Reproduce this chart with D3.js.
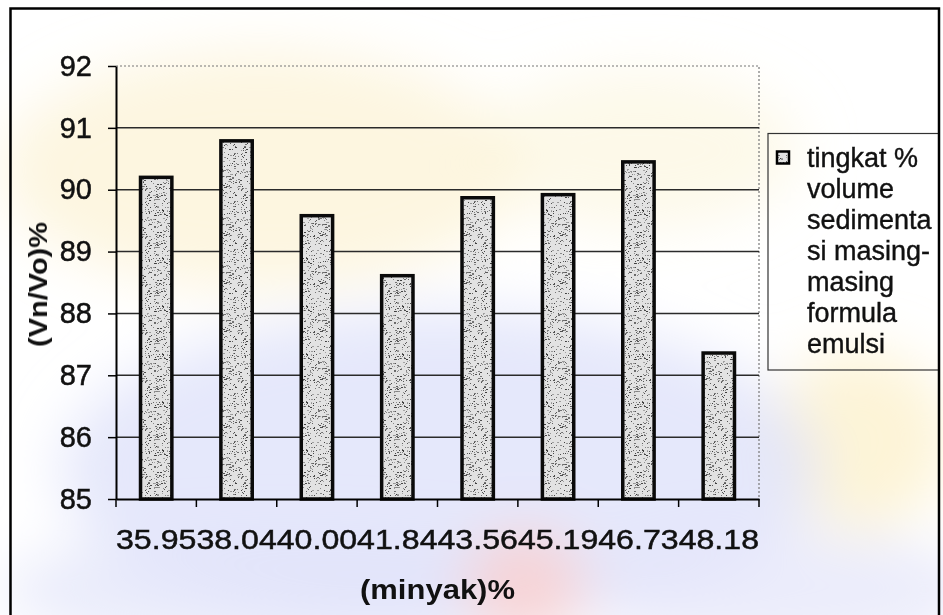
<!DOCTYPE html>
<html>
<head>
<meta charset="utf-8">
<script src="https://cdn.jsdelivr.net/npm/d3@7"></script>
<style>
  html, body { margin: 0; padding: 0; background: #ffffff; }
  svg { display: block; }
  text { font-family: Arial, "Liberation Sans", sans-serif; fill: #111; }
</style>
</head>
<body>
<svg id="chart" width="943" height="615"></svg>
<script>
// Oil fraction of each emulsion formula (category labels)
const categories = ["35.95", "38.04", "40.00", "41.84", "43.56", "45.19", "46.73", "48.18"];
// Sedimentation volume ratio (Vn/Vo)% for each formula
const values = [90.20, 90.79, 89.58, 88.61, 89.87, 89.92, 90.45, 87.36];
// Y axis ticks
const yTicks = [85, 86, 87, 88, 89, 90, 91, 92];
// Legend text, wrapped as it appears in the legend box
const legendLines = ["tingkat %", "volume", "sedimenta", "si masing-", "masing", "formula", "emulsi"];
const xTitle = "(minyak)%";
const yTitle = "(Vn/Vo)%";

const svg = d3.select("#chart");
const defs = svg.append("defs");

// Soft background wash
const blur = defs.append("filter").attr("id", "soft")
  .attr("x", "-50%").attr("y", "-50%").attr("width", "200%").attr("height", "200%");
blur.append("feGaussianBlur").attr("stdDeviation", 28);

// Stippled grey fill for the bars (deterministic speckle texture)
const pat = defs.append("pattern").attr("id", "stipple")
  .attr("patternUnits", "userSpaceOnUse").attr("width", 48).attr("height", 48);
pat.append("rect").attr("width", 48).attr("height", 48).attr("fill", "#e2e2e2");
let seed = 12345;
function lcg() { seed = (seed * 1103515245 + 12345) % 2147483648; return seed / 2147483648; }
for (let i = 0; i < 300; i++) {
  const g = Math.floor(60 + lcg() * 110);
  pat.append("rect")
    .attr("x", Math.floor(lcg() * 48)).attr("y", Math.floor(lcg() * 48))
    .attr("width", lcg() < 0.3 ? 2 : 1).attr("height", 1)
    .attr("fill", `rgb(${g},${g},${g})`);
}

// Background wash
const wash = svg.append("g").attr("filter", "url(#soft)");
wash.append("ellipse").attr("cx", 260).attr("cy", 170).attr("rx", 260).attr("ry", 120)
  .attr("fill", "#fbefc6").attr("opacity", 0.55);
wash.append("ellipse").attr("cx", 640).attr("cy", 150).attr("rx", 160).attr("ry", 80)
  .attr("fill", "#fcf3d4").attr("opacity", 0.5);
wash.append("ellipse").attr("cx", 860).attr("cy", 440).attr("rx", 90).attr("ry", 90)
  .attr("fill", "#fcf0c6").attr("opacity", 0.7);
wash.append("ellipse").attr("cx", 440).attr("cy", 470).attr("rx", 380).attr("ry", 160)
  .attr("fill", "#dfe2fa").attr("opacity", 0.8);
wash.append("ellipse").attr("cx", 300).attr("cy", 590).attr("rx", 300).attr("ry", 60)
  .attr("fill", "#e2e4fa").attr("opacity", 0.75);
wash.append("ellipse").attr("cx", 780).attr("cy", 590).attr("rx", 200).attr("ry", 60)
  .attr("fill", "#e4e6fa").attr("opacity", 0.75);
wash.append("ellipse").attr("cx", 525).attr("cy", 585).attr("rx", 60).attr("ry", 55)
  .attr("fill", "#f8d2d2").attr("opacity", 0.9);

// Plot geometry
const plot = { left: 116, right: 759, top: 66, bottom: 499 };

const x = d3.scaleBand()
  .domain(categories)
  .range([plot.left, plot.right])
  .paddingInner(0.61)
  .paddingOuter(0.305);

const y = d3.scaleLinear()
  .domain([85, 92])
  .range([plot.bottom, plot.top]);

// Plot area border (dotted, top and right)
svg.append("path")
  .attr("d", `M${plot.left},${plot.top}H${plot.right}V${plot.bottom}`)
  .attr("fill", "none").attr("stroke", "#777").attr("stroke-width", 1.2)
  .attr("stroke-dasharray", "2,2");

// Gridlines
svg.append("g").selectAll("line")
  .data(yTicks.filter(t => t > 85 && t < 92))
  .join("line")
  .attr("x1", plot.left).attr("x2", plot.right)
  .attr("y1", d => y(d)).attr("y2", d => y(d))
  .attr("stroke", "#2a2a2a").attr("stroke-width", 1.5);

// Bars
svg.append("g").selectAll("rect")
  .data(values)
  .join("rect")
  .attr("x", (d, i) => x(categories[i]))
  .attr("y", d => y(d))
  .attr("width", x.bandwidth())
  .attr("height", d => y(85) - y(d))
  .attr("fill", "url(#stipple)")
  .attr("stroke", "#0a0a0a")
  .attr("stroke-width", 3.5);

// Y axis
const yAxis = svg.append("g")
  .attr("transform", `translate(${plot.left},0)`)
  .call(d3.axisLeft(y).tickValues(yTicks).tickFormat(d3.format("d"))
    .tickSize(8).tickSizeOuter(0).tickPadding(16));
yAxis.select(".domain").attr("stroke", "#000").attr("stroke-width", 2);
yAxis.selectAll(".tick line").attr("stroke", "#000").attr("stroke-width", 1.5);
yAxis.selectAll("text")
  .attr("font-family", "Arial, 'Liberation Sans', sans-serif")
  .attr("font-size", 29).attr("fill", "#111")
  .attr("stroke", "#111").attr("stroke-width", 0.5);

// X axis: ticks on the category boundaries
const xAxis = svg.append("g")
  .attr("transform", `translate(0,${plot.bottom})`)
  .call(d3.axisBottom(x).tickSize(0).tickPadding(30));
xAxis.select(".domain").attr("stroke", "#000").attr("stroke-width", 2);
xAxis.selectAll("text")
  .attr("font-family", "Arial, 'Liberation Sans', sans-serif")
  .attr("font-size", 28).attr("fill", "#111")
  .attr("stroke", "#111").attr("stroke-width", 0.5)
  .attr("textLength", x.step()).attr("lengthAdjust", "spacingAndGlyphs");
const boundaries = categories.map(c => x(c) - x.step() * x.paddingInner() / 2)
  .concat([plot.right]);
xAxis.append("g").selectAll("line")
  .data(boundaries)
  .join("line")
  .attr("x1", d => d).attr("x2", d => d)
  .attr("y1", 0).attr("y2", 8)
  .attr("stroke", "#000").attr("stroke-width", 1.5);

// Axis titles
svg.append("text")
  .attr("x", (plot.left + plot.right) / 2).attr("y", 599)
  .attr("text-anchor", "middle")
  .attr("font-size", 27).attr("font-weight", "bold")
  .attr("textLength", 155).attr("lengthAdjust", "spacingAndGlyphs")
  .text(xTitle);

svg.append("text")
  .attr("transform", `translate(47,${(plot.top + plot.bottom) / 2 + 2}) rotate(-90)`)
  .attr("text-anchor", "middle")
  .attr("font-size", 26).attr("font-weight", "bold")
  .attr("textLength", 125).attr("lengthAdjust", "spacingAndGlyphs")
  .text(yTitle);

// Legend (clipped by the chart frame)
defs.append("clipPath").attr("id", "frameClip")
  .append("rect").attr("x", 0).attr("y", 0).attr("width", 939).attr("height", 615);
const legend = svg.append("g").attr("clip-path", "url(#frameClip)");
legend.append("rect")
  .attr("x", 768).attr("y", 133.5).attr("width", 200).attr("height", 236.5)
  .attr("fill", "none").attr("stroke", "#333").attr("stroke-width", 1.2);
legend.append("rect")
  .attr("x", 777).attr("y", 151.5).attr("width", 12).attr("height", 12)
  .attr("fill", "url(#stipple)").attr("stroke", "#000").attr("stroke-width", 2.5);
legend.append("g").selectAll("text")
  .data(legendLines)
  .join("text")
  .attr("x", 807)
  .attr("y", (d, i) => 166.5 + i * 31)
  .attr("font-size", 27)
  .attr("stroke", "#111").attr("stroke-width", 0.4)
  .text(d => d);

// Chart frame
svg.append("path")
  .attr("d", "M10.5,620V8.5H939V620")
  .attr("fill", "none").attr("stroke", "#000").attr("stroke-width", 2.5);
</script>
</body>
</html>
